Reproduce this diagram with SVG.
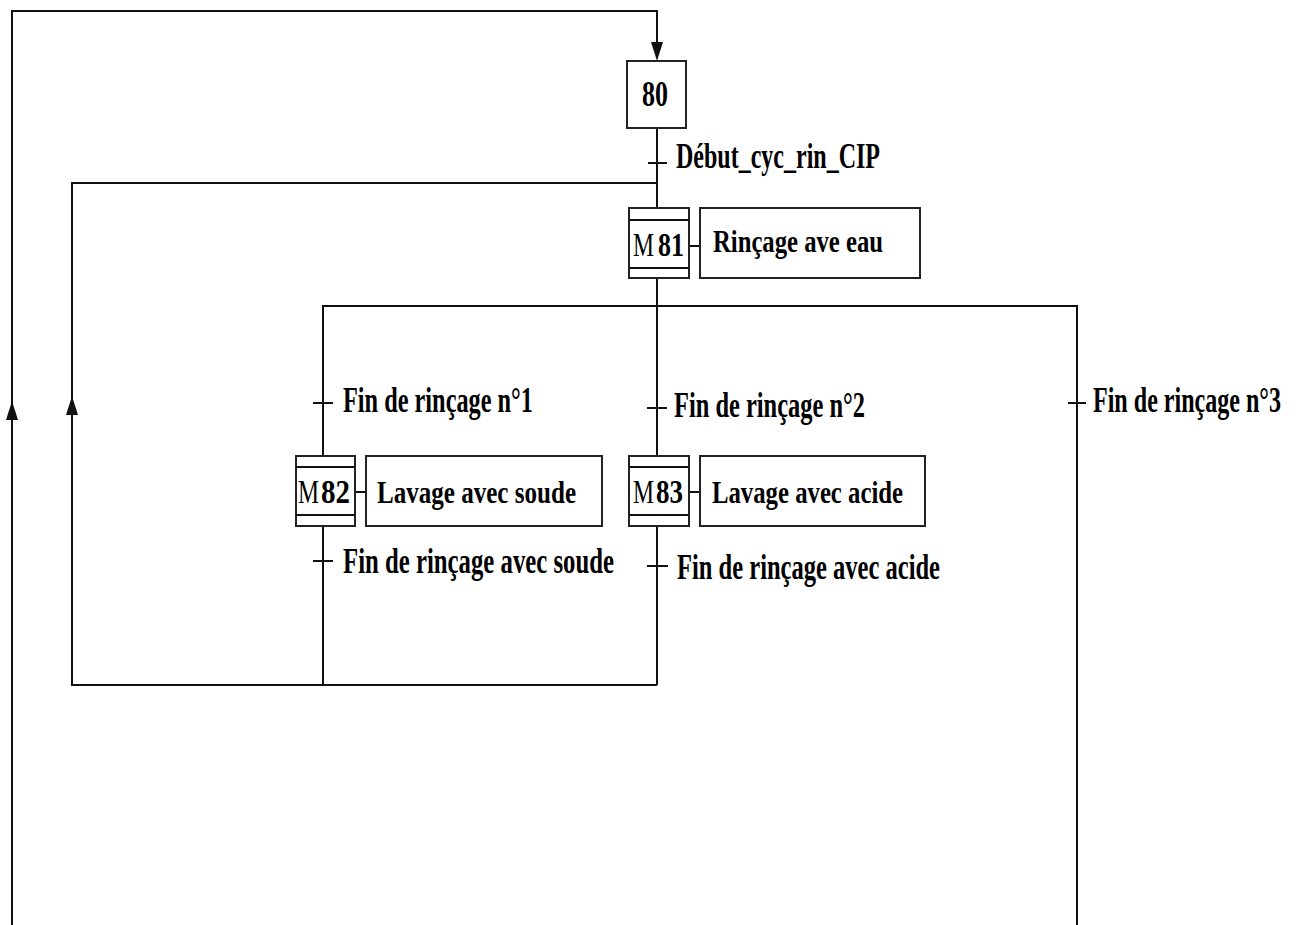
<svg xmlns="http://www.w3.org/2000/svg" width="1300" height="925" viewBox="0 0 1300 925">
<style>
.ln{stroke:#111;stroke-width:2;fill:none}
.bx{stroke:#222;stroke-width:2;fill:#fff}
.ah{fill:#111}
.t{font-family:"Liberation Serif","Times New Roman",serif;font-weight:bold;fill:#000}
.r{font-weight:normal}
</style>
<rect width="1300" height="925" fill="#fff"/>
<g id="connectors">
<path class="ln" d="M12,925 V11 H657 V44"/>
<path class="ah" d="M651,42 L663,42 L657,61 Z"/>
<path class="ln" d="M657,128 V208"/>
<path class="ln" d="M648,163 H667"/>
<path class="ln" d="M657,183 H72 V685 H657"/>
<path class="ln" d="M657,278 V456"/>
<path class="ln" d="M323,456 V306 H1077 V925"/>
<path class="ln" d="M313,403 H333"/>
<path class="ln" d="M647,408 H667"/>
<path class="ln" d="M1068,403 H1086"/>
<path class="ln" d="M323,526 V685"/>
<path class="ln" d="M657,526 V685"/>
<path class="ln" d="M313,561 H333"/>
<path class="ln" d="M647,566 H668"/>
<path class="ln" d="M689,246 H700"/>
<path class="ln" d="M355,492 H366"/>
<path class="ln" d="M689,492 H700"/>
<path class="ah" d="M12,401 L18,420 L6,420 Z"/>
<path class="ah" d="M72,396 L78,415 L66,415 Z"/>
</g>
<g id="step80">
<rect class="bx" x="627" y="61" width="59" height="67"/>
<text class="t" x="655" y="106" font-size="36" text-anchor="middle" textLength="26" lengthAdjust="spacingAndGlyphs">80</text>
</g>
<g id="t80">
<text class="t" x="676" y="168" font-size="36" textLength="204" lengthAdjust="spacingAndGlyphs">Début_cyc_rin_CIP</text>
</g>
<g id="step81">
<rect class="bx" x="629" y="208" width="60" height="70"/>
<path class="ln" d="M629,220 H689 M629,268 H689"/>
<text class="t r" x="633" y="256" font-size="33" textLength="21" lengthAdjust="spacingAndGlyphs">M</text>
<text class="t" x="658" y="256" font-size="33" textLength="26" lengthAdjust="spacingAndGlyphs">81</text>
</g>
<g id="action81">
<rect class="bx" x="700" y="208" width="220" height="70"/>
<text class="t" x="713" y="252" font-size="32" textLength="170" lengthAdjust="spacingAndGlyphs">Rinçage ave eau</text>
</g>
<g id="tr1">
<text class="t" x="343" y="412" font-size="35" textLength="190" lengthAdjust="spacingAndGlyphs">Fin de rinçage n°1</text>
</g>
<g id="tr2">
<text class="t" x="674" y="417" font-size="35" textLength="191" lengthAdjust="spacingAndGlyphs">Fin de rinçage n°2</text>
</g>
<g id="tr3">
<text class="t" x="1093" y="412" font-size="35" textLength="188" lengthAdjust="spacingAndGlyphs">Fin de rinçage n°3</text>
</g>
<g id="step82">
<rect class="bx" x="296" y="456" width="59" height="70"/>
<path class="ln" d="M296,467 H355 M296,515 H355"/>
<text class="t r" x="298" y="503" font-size="33" textLength="21" lengthAdjust="spacingAndGlyphs">M</text>
<text class="t" x="321" y="503" font-size="33" textLength="29" lengthAdjust="spacingAndGlyphs">82</text>
</g>
<g id="action82">
<rect class="bx" x="366" y="456" width="236" height="70"/>
<text class="t" x="377" y="503" font-size="32" textLength="199" lengthAdjust="spacingAndGlyphs">Lavage avec soude</text>
</g>
<g id="step83">
<rect class="bx" x="629" y="456" width="60" height="70"/>
<path class="ln" d="M629,467 H689 M629,515 H689"/>
<text class="t r" x="633" y="503" font-size="33" textLength="21" lengthAdjust="spacingAndGlyphs">M</text>
<text class="t" x="656" y="503" font-size="33" textLength="27" lengthAdjust="spacingAndGlyphs">83</text>
</g>
<g id="action83">
<rect class="bx" x="700" y="456" width="225" height="70"/>
<text class="t" x="712" y="503" font-size="32" textLength="191" lengthAdjust="spacingAndGlyphs">Lavage avec acide</text>
</g>
<g id="tr82">
<text class="t" x="343" y="573" font-size="35" textLength="271" lengthAdjust="spacingAndGlyphs">Fin de rinçage avec soude</text>
</g>
<g id="tr83">
<text class="t" x="677" y="579" font-size="35" textLength="263" lengthAdjust="spacingAndGlyphs">Fin de rinçage avec acide</text>
</g>
</svg>
